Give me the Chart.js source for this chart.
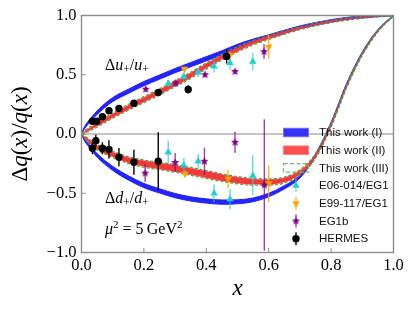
<!DOCTYPE html>
<html><head><meta charset="utf-8">
<script src="https://cdn.jsdelivr.net/npm/chart.js@4.4.1/dist/chart.umd.min.js"></script>
<style>html,body{margin:0;padding:0;background:#fff}</style>
</head><body>
<canvas id="c" width="415" height="312"></canvas>
<script>
// ---- model curves (x grid) ----
const xs    = [0, 0.01, 0.02, 0.05, 0.1, 0.15, 0.2, 0.25, 0.3, 0.35, 0.4, 0.45, 0.5, 0.55, 0.6, 0.65, 0.7, 0.75, 0.8, 0.85, 0.9, 0.95, 1.0];
// This work (I)
const uI    = [0, 0.055, 0.09, 0.18, 0.29, 0.36, 0.425, 0.48, 0.535, 0.585, 0.635, 0.685, 0.74, 0.785, 0.822, 0.862, 0.9, 0.93, 0.955, 0.975, 0.988, 0.996, 1.0];
const dI    = [0, -0.05, -0.085, -0.18, -0.29, -0.37, -0.435, -0.48, -0.52, -0.548, -0.565, -0.575, -0.572, -0.556, -0.515, -0.45, -0.36, -0.18, 0.09, 0.42, 0.685, 0.875, 1.0];
const hwI   = [0.004, 0.01, 0.012, 0.015, 0.017, 0.018, 0.018, 0.018, 0.018, 0.018, 0.018, 0.018, 0.017, 0.016, 0.015, 0.014, 0.012, 0.011, 0.01, 0.009, 0.008, 0.006, 0.004];
// This work (II)
const uII   = [0, 0.018, 0.033, 0.078, 0.155, 0.225, 0.29, 0.355, 0.425, 0.495, 0.575, 0.648, 0.715, 0.77, 0.815, 0.857, 0.893, 0.925, 0.95, 0.97, 0.985, 0.995, 1.0];
const dII   = [0, -0.028, -0.05, -0.112, -0.172, -0.22, -0.25, -0.27, -0.29, -0.315, -0.342, -0.368, -0.39, -0.403, -0.405, -0.388, -0.325, -0.185, 0.075, 0.405, 0.675, 0.87, 1.0];
const hwIIu = [0, 0.006, 0.009, 0.013, 0.016, 0.018, 0.019, 0.02, 0.02, 0.02, 0.019, 0.018, 0.016, 0.013, 0.011, 0.009, 0.007, 0.006, 0.005, 0.004, 0.003, 0.002, 0];
const hwIId = [0, 0.007, 0.011, 0.016, 0.02, 0.022, 0.024, 0.025, 0.026, 0.027, 0.027, 0.026, 0.024, 0.022, 0.02, 0.018, 0.016, 0.013, 0.011, 0.009, 0.007, 0.004, 0];
// This work (III)
const hwIIIu = [0.003, 0.011, 0.015, 0.02, 0.023, 0.025, 0.026, 0.027, 0.027, 0.027, 0.026, 0.025, 0.023, 0.02, 0.018, 0.016, 0.014, 0.013, 0.012, 0.011, 0.01, 0.008, 0.004];
const hwIIId = [0.003, 0.012, 0.017, 0.023, 0.027, 0.029, 0.031, 0.032, 0.033, 0.034, 0.034, 0.033, 0.031, 0.029, 0.027, 0.025, 0.023, 0.02, 0.018, 0.016, 0.013, 0.01, 0.004];

// ---- experimental data ----
const hermesX = [0.035, 0.049, 0.067, 0.088, 0.12, 0.168, 0.246, 0.342, 0.465, 0.035, 0.046, 0.067, 0.088, 0.12, 0.168, 0.246];
const hermesY = [0.107, 0.107, 0.145, 0.196, 0.216, 0.26, 0.35, 0.376, 0.655, -0.12, -0.056, -0.12, -0.13, -0.196, -0.238, -0.23];
const hermesE = [0.02, 0.02, 0.02, 0.02, 0.02, 0.025, 0.03, 0.035, 0.06, 0.05, 0.05, 0.05, 0.077, 0.077, 0.105, 0.245];
const e06X = [0.278, 0.328, 0.374, 0.425, 0.476, 0.549, 0.278, 0.328, 0.374, 0.425, 0.476, 0.549];
const e06Y = [0.425, 0.485, 0.52, 0.57, 0.60, 0.61, -0.155, -0.265, -0.23, -0.50, -0.55, -0.35];
const e06E = [0.03, 0.035, 0.04, 0.05, 0.055, 0.075, 0.1, 0.063, 0.063, 0.075, 0.085, 0.17];
const e99X = [0.33, 0.475, 0.60, 0.332, 0.47, 0.60];
const e99Y = [0.55, 0.665, 0.735, -0.336, -0.378, -0.42];
const e99E = [0.02, 0.03, 0.1, 0.03, 0.077, 0.155];
const eg1bX = [0.206, 0.302, 0.396, 0.492, 0.585, 0.204, 0.30, 0.394, 0.492, 0.586];
const eg1bY = [0.378, 0.43, 0.50, 0.527, 0.695, -0.33, -0.24, -0.23, -0.07, -0.43];
const eg1bE = [0.02, 0.02, 0.02, 0.02, 0.063, 0.075, 0.08, 0.115, 0.09, 0.555];

// ---- ticks & labels ----
const xTicks = [0, 0.2, 0.4, 0.6, 0.8, 1.0];
const yTicks = [-1, -0.5, 0, 0.5, 1];
const legendLabels = ['This work (I)', 'This work (II)', 'This work (III)', 'E06-014/EG1', 'E99-117/EG1', 'EG1b', 'HERMES'];

// ---- colours ----
const BLUE = '#2424ff', RED = '#f23a3a', GREEN = '#4f9a3f';
const CYAN = '#22cfcf', ORANGE = '#ffa500', PURPLE = '#800080';

// star marker
function makeStar(color, R) {
  const c = document.createElement('canvas');
  const s = Math.ceil(R * 2 + 2);
  c.width = s; c.height = s;
  const g = c.getContext('2d');
  g.fillStyle = color;
  g.beginPath();
  for (let k = 0; k < 10; k++) {
    const r = k % 2 === 0 ? R : R * 0.45;
    const a = -Math.PI / 2 + k * Math.PI / 5;
    const px = s / 2 + r * Math.cos(a), py = s / 2 + r * Math.sin(a);
    if (k === 0) g.moveTo(px, py); else g.lineTo(px, py);
  }
  g.closePath(); g.fill();
  return c;
}
const starImg = makeStar(PURPLE, 4.3);

const pts = (X, Y) => X.map((x, i) => ({x, y: Y[i]}));
const edge = (C, H, s) => xs.map((x, i) => ({x, y: C[i] + s * H[i]}));

function bandPair(C, H, color, order, lineW) {
  const base = {type: 'line', pointRadius: 0, cubicInterpolationMode: 'monotone', borderColor: color, borderWidth: lineW, order};
  return [
    Object.assign({}, base, {data: edge(C, H, -1), fill: false}),
    Object.assign({}, base, {data: edge(C, H, 1), fill: '-1', backgroundColor: color})
  ];
}
function dashPair(C, H) {
  const base = {type: 'line', pointRadius: 0, cubicInterpolationMode: 'monotone', borderColor: GREEN, borderWidth: 1.1, borderDash: [3, 2], fill: false, order: 30};
  return [Object.assign({}, base, {data: edge(C, H, -1)}), Object.assign({}, base, {data: edge(C, H, 1)})];
}
function pointSet(X, Y, E, style, color, errColor, order, radius, rot) {
  return {type: 'line', showLine: false, data: pts(X, Y), errs: E, errColor,
    pointStyle: style, pointRadius: radius, pointRotation: rot || 0,
    pointBackgroundColor: color, pointBorderColor: color, pointBorderWidth: 0, order};
}

const datasets = [
  ...bandPair(uI, hwI, BLUE, 50, 1),
  ...bandPair(dI, hwI, BLUE, 50, 1),
  ...bandPair(uII, hwIIu, RED, 40, 0.5),
  ...bandPair(dII, hwIId, RED, 40, 0.5),
  ...dashPair(uII, hwIIIu),
  ...dashPair(dII, hwIIId),
  pointSet(e06X, e06Y, e06E, 'triangle', CYAN, 'rgba(34,207,207,0.7)', 4, 4.3),
  pointSet(e99X, e99Y, e99E, 'triangle', ORANGE, 'rgba(255,165,0,0.85)', 3, 4.3, 180),
  pointSet(eg1bX, eg1bY, eg1bE, starImg, PURPLE, 'rgba(128,0,128,0.75)', 2, 5),
  pointSet(hermesX, hermesY, hermesE, 'circle', '#000', '#000', 1, 3.7)
];

const errPlugin = {
  id: 'errbars',
  beforeDatasetDraw(chart, args) {
    const ds = chart.data.datasets[args.index];
    if (!ds.errs) return;
    const {ctx, chartArea: a, scales: {x, y}} = chart;
    ctx.save();
    ctx.beginPath(); ctx.rect(a.left, a.top, a.right - a.left, a.bottom - a.top); ctx.clip();
    ctx.strokeStyle = ds.errColor; ctx.lineWidth = 1.4;
    ds.data.forEach((p, i) => {
      const px = x.getPixelForValue(p.x);
      ctx.beginPath();
      ctx.moveTo(px, y.getPixelForValue(p.y - ds.errs[i]));
      ctx.lineTo(px, y.getPixelForValue(p.y + ds.errs[i]));
      ctx.stroke();
    });
    ctx.restore();
  }
};

function rich(ctx, segs, x, y, align) {
  const fonts = segs.map(s => (s[1] ? 'italic ' : '') + s[2] + 'px "Liberation Serif"');
  let w = 0;
  segs.forEach((s, i) => { ctx.font = fonts[i]; w += ctx.measureText(s[0]).width; });
  let cx = align === 'center' ? x - w / 2 : x;
  segs.forEach((s, i) => { ctx.font = fonts[i]; ctx.fillText(s[0], cx, y + (s[3] || 0)); cx += ctx.measureText(s[0]).width; });
}

function drawMarker(ctx, kind, x, y) {
  ctx.save();
  if (kind === 'circle') { ctx.fillStyle = '#000'; ctx.beginPath(); ctx.arc(x, y, 3.7, 0, Math.PI * 2); ctx.fill(); }
  else if (kind === 'up' || kind === 'down') {
    ctx.fillStyle = kind === 'up' ? CYAN : ORANGE;
    const r = 4.3, s = kind === 'up' ? 1 : -1;
    ctx.beginPath();
    ctx.moveTo(x, y - s * r);
    ctx.lineTo(x + r * 0.866, y + s * r * 0.5);
    ctx.lineTo(x - r * 0.866, y + s * r * 0.5);
    ctx.closePath(); ctx.fill();
  } else if (kind === 'star') { ctx.drawImage(starImg, x - starImg.width / 2, y - starImg.height / 2); }
  ctx.restore();
}

const decor = {
  id: 'decor',
  beforeDatasetsDraw(chart) {
    const {ctx, chartArea: a, scales: {y}} = chart;
    ctx.save();
    ctx.strokeStyle = '#8a8a8a'; ctx.lineWidth = 1;
    const y0 = y.getPixelForValue(0);
    ctx.beginPath(); ctx.moveTo(a.left, y0); ctx.lineTo(a.right, y0); ctx.stroke();
    ctx.restore();
  },
  afterDraw(chart) {
    const {ctx, chartArea: a, scales: {x, y}} = chart;
    ctx.save();
    // frame
    ctx.strokeStyle = '#8c8c8c'; ctx.lineWidth = 1.4;
    ctx.strokeRect(a.left, a.top, a.right - a.left, a.bottom - a.top);
    // inward ticks
    ctx.lineWidth = 1;
    xTicks.forEach(v => { const px = x.getPixelForValue(v); ctx.beginPath(); ctx.moveTo(px, a.bottom); ctx.lineTo(px, a.bottom - 4.5); ctx.stroke(); });
    yTicks.forEach(v => { const py = y.getPixelForValue(v); ctx.beginPath(); ctx.moveTo(a.left, py); ctx.lineTo(a.left + 4.5, py); ctx.stroke(); });

    // legend
    const rx = 283.5, rw = 25, mx = 296, tx = 319, y0 = 132.5, dy = 17.7, rh = 8.5;
    ctx.textBaseline = 'middle'; ctx.textAlign = 'left';
    legendLabels.forEach((lab, i) => {
      const ry = y0 + i * dy;
      if (i === 0) { ctx.fillStyle = 'rgba(36,36,255,0.92)'; ctx.fillRect(rx, ry - rh / 2, rw, rh); ctx.strokeStyle = 'rgba(110,110,255,0.9)'; ctx.lineWidth = 1; ctx.strokeRect(rx, ry - rh / 2, rw, rh); }
      else if (i === 1) { ctx.fillStyle = 'rgba(255,60,60,0.9)'; ctx.fillRect(rx, ry - rh / 2, rw, rh); ctx.strokeStyle = 'rgba(255,120,120,0.9)'; ctx.lineWidth = 1; ctx.strokeRect(rx, ry - rh / 2, rw, rh); }
      else if (i === 2) { ctx.strokeStyle = '#6cbb6c'; ctx.lineWidth = 1.3; ctx.setLineDash([4, 2.5]); ctx.strokeRect(rx, ry - rh / 2, rw, rh); ctx.setLineDash([]); }
      else {
        const kinds = ['up', 'down', 'star', 'circle'];
        const ecol = ['rgba(34,207,207,0.7)', 'rgba(255,165,0,0.85)', 'rgba(128,0,128,0.75)', '#000'];
        ctx.strokeStyle = ecol[i - 3]; ctx.lineWidth = 1.4;
        ctx.beginPath(); ctx.moveTo(mx, ry - 6.5); ctx.lineTo(mx, ry + 6.5); ctx.stroke();
        drawMarker(ctx, kinds[i - 3], mx, ry);
      }
      ctx.fillStyle = '#111'; ctx.font = '11.5px "Liberation Sans", Arial, sans-serif';
      ctx.fillText(lab, tx, ry + 0.5);
    });

    // annotations
    ctx.fillStyle = '#000'; ctx.textBaseline = 'alphabetic';
    rich(ctx, [['\u0394', 0, 16], ['u', 1, 16], ['+', 0, 11.5, 3], ['/', 0, 16], ['u', 1, 16], ['+', 0, 11.5, 3]], 105, 70);
    rich(ctx, [['\u0394', 0, 16], ['d', 1, 16], ['+', 0, 11.5, 3], ['/', 0, 16], ['d', 1, 16], ['+', 0, 11.5, 3]], 105, 203);
    rich(ctx, [['\u03bc', 1, 16], ['2', 0, 11, -6.5], [' = 5\u2009GeV', 0, 16], ['2', 0, 11, -6.5]], 105, 234);

    // axis titles
    rich(ctx, [['x', 1, 23]], 237.5, 295, 'center');
    ctx.save();
    ctx.translate(27, (a.top + a.bottom) / 2);
    ctx.rotate(-Math.PI / 2);
    rich(ctx, [['\u0394', 0, 23], ['q', 1, 23], ['(', 0, 23], ['x', 1, 23], [')', 0, 23], ['/', 0, 23], ['q', 1, 23], ['(', 0, 23], ['x', 1, 23], [')', 0, 23]], 0, 0, 'center');
    ctx.restore();
    ctx.restore();
  }
};

const fmt = v => v.toFixed(1).replace('-', '\u2212');

new Chart(document.getElementById('c'), {
  type: 'line',
  data: {datasets},
  options: {
    responsive: false, animation: false, devicePixelRatio: 1,
    layout: {padding: {left: 0, top: 15.5, right: 21.5, bottom: 0}},
    plugins: {legend: {display: false}, tooltip: {enabled: false}},
    scales: {
      x: {type: 'linear', min: 0, max: 1,
        afterFit: s => { s.height = 59.5; },
        afterBuildTicks: s => { s.ticks = xTicks.map(v => ({value: v})); },
        grid: {display: false, drawTicks: false}, border: {display: false},
        ticks: {padding: 3, color: '#000', font: {family: '"Liberation Serif"', size: 16.5}, callback: v => fmt(v), maxRotation: 0, autoSkip: false}},
      y: {type: 'linear', min: -1, max: 1,
        afterFit: s => { s.width = 81.5; },
        afterBuildTicks: s => { s.ticks = yTicks.map(v => ({value: v})); },
        grid: {display: false, drawTicks: false}, border: {display: false},
        ticks: {padding: 5, color: '#000', font: {family: '"Liberation Serif"', size: 16.5}, callback: v => fmt(v), autoSkip: false}}
    }
  },
  plugins: [errPlugin, decor]
});
</script>
</body></html>
